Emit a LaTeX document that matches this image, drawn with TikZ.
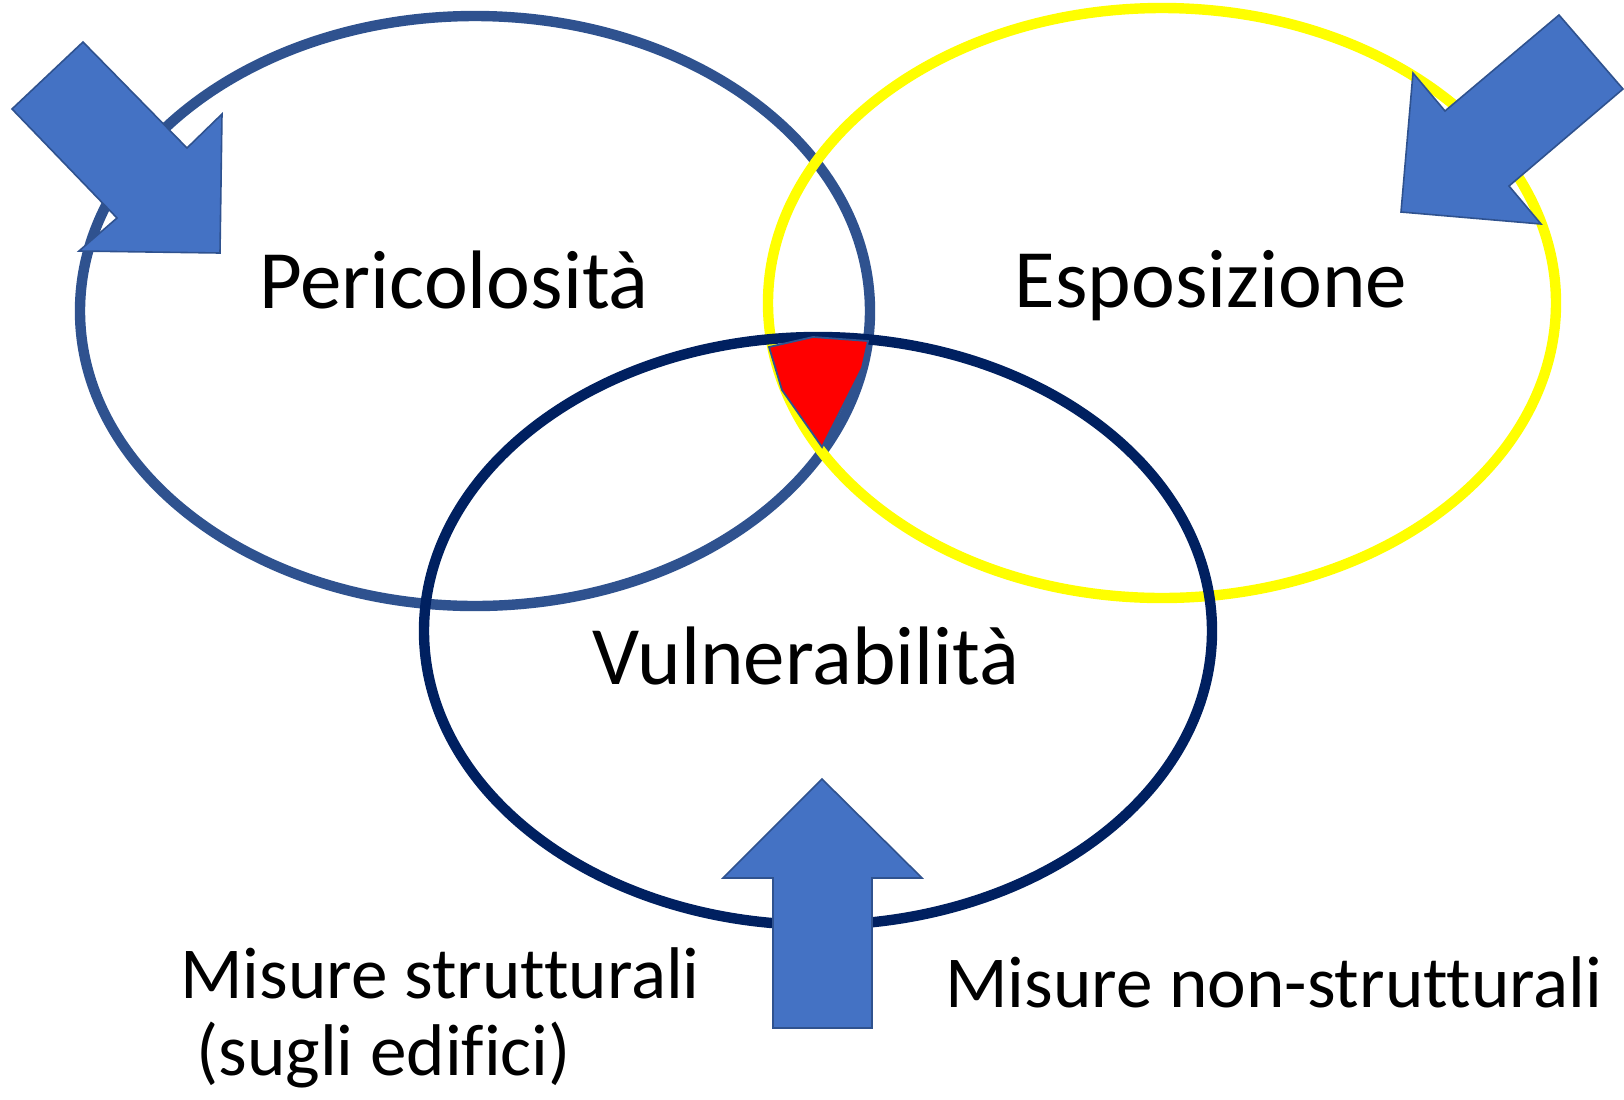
\documentclass[tikz,border=0pt]{standalone}
\usepackage{fontspec}
\setmainfont[Ligatures=NoCommon]{Carlito}
\definecolor{haz}{HTML}{2F528F}
\definecolor{expo}{HTML}{FFFF00}
\definecolor{vuln}{HTML}{002060}
\definecolor{arrfill}{HTML}{4472C4}
\definecolor{arrline}{HTML}{2F528F}
\tikzset{
  ring/.style={line width=5.2pt},
  bigarrow/.style={fill=arrfill, draw=arrline, line width=0.8pt, line join=miter},
  bigtext/.style={font=\fontsize{41.5}{48}\selectfont, inner sep=0pt, anchor=base},
  smalltext/.style={font=\fontsize{36.6}{44}\selectfont, inner sep=0pt, anchor=base},
}
\begin{document}
\begin{tikzpicture}[x=0.5pt,y=-0.5pt]
\useasboundingbox (0,0) rectangle (1624,1099);
\fill[white] (0,0) rectangle (1624,1099);

% the three risk factors
\draw[ring, haz]  (475,311) ellipse [x radius=395, y radius=295];
\draw[ring, expo] (1162,303) ellipse [x radius=394, y radius=295];
\draw[ring, vuln] (818,631) ellipse [x radius=394, y radius=294];

% common area: risk
\draw[fill=red, draw=haz, line width=0.9pt]
  (769,347) -- (813,337) -- (868,341) -- (862,368) -- (822,447) -- (782,390) -- cycle;

% labels
\node[bigtext] (per) at (454,308) {Pericolosità};
\node[bigtext] (esp) at (1211,307) {Esposizione};
\node[bigtext] (vul) at (806,684) {Vulnerabilità};
\node[smalltext] (ms) at (440,998) {Misure strutturali};
\node[smalltext, anchor=base west] (se) at (196,1075) {(sugli edifici)};
\node[smalltext] (mns) at (1274,1007) {Misure non-strutturali};

% block arrows
\draw[bigarrow] (83,42) -- (187,148) -- (222,114) -- (220,253) -- (79,251) -- (117,218) -- (12,109) -- cycle;
\draw[bigarrow] (1559,15) -- (1623,89) -- (1509,186) -- (1541,224) -- (1401,212) -- (1413,73) -- (1445,111) -- cycle;
\draw[bigarrow] (822,779) -- (922,878) -- (872,878) -- (872,1028) -- (773,1028) -- (773,878) -- (723,878) -- cycle;
\end{tikzpicture}
\end{document}
